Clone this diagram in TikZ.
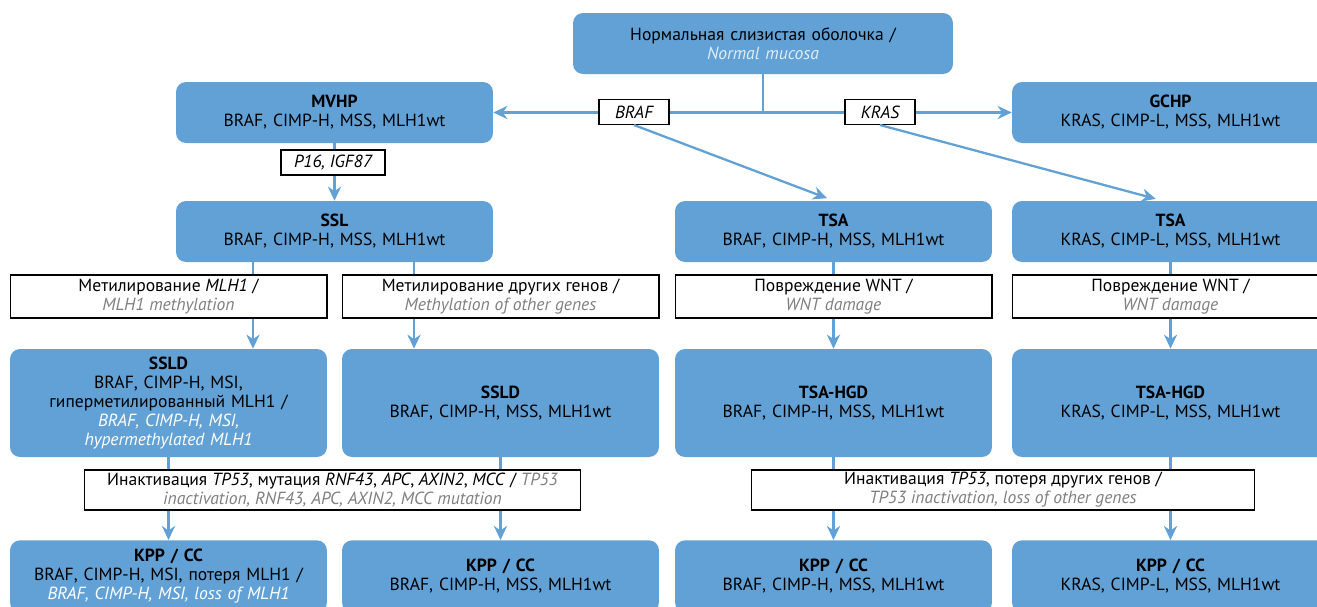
\documentclass[tikz,border=0pt]{standalone}
\usepackage{fontspec}
\setmainfont{PT Sans}
\usetikzlibrary{arrows.meta,positioning,calc}
\definecolor{boxblue}{RGB}{97,161,214}
\definecolor{notegrey}{RGB}{128,128,128}
\definecolor{paleblue}{RGB}{225,237,248}
\newcommand{\noteen}[1]{{\color{notegrey}\itshape #1}}
\newcommand{\stageen}[1]{{\color{white}\itshape #1}}

\begin{document}
\begin{tikzpicture}[
    x=0.02cm, y=-0.02cm,
    font=\fontsize{10}{10.8}\selectfont,
    stage/.style={rectangle, rounded corners=0.2cm, fill=boxblue, text width=6.2cm, align=center, minimum width=6.34cm, minimum height=1.22cm, inner sep=0pt},
    tall/.style={stage, minimum height=2.16cm},
    note/.style={rectangle, draw=black, line width=0.6pt, fill=white, align=center, minimum height=0.86cm, inner sep=1pt},
    tag/.style={rectangle, draw=black, line width=0.6pt, fill=white, font=\fontsize{10}{10.8}\selectfont\itshape, minimum height=0.5cm, inner sep=1pt},
    arrow/.style={-{Stealth[length=8pt,width=7.5pt]}, draw=boxblue, line width=1.3pt},
    link/.style={draw=boxblue, line width=1.3pt}
]
\useasboundingbox (0,0) rectangle (1317,606);

% top rows
\node[stage, minimum width=7.6cm, text width=7.4cm] (norm) at (763,43.5) {Нормальная слизистая оболочка /\\ {\color{paleblue}\itshape Normal mucosa}};
\node[stage] (mvhp) at (334.5,112.5) {\textbf{MVHP}\\ BRAF, CIMP-H, MSS, MLH1wt};
\node[stage] (gchp) at (1170.5,112.5) {\textbf{GCHP}\\ KRAS, CIMP-L, MSS, MLH1wt};
\node[stage] (ssl) at (334.5,231.5) {\textbf{SSL}\\ BRAF, CIMP-H, MSS, MLH1wt};
\node[stage] (tsabraf) at (833.5,231.5) {\textbf{TSA}\\ BRAF, CIMP-H, MSS, MLH1wt};
\node[stage] (tsakras) at (1170.5,231.5) {\textbf{TSA}\\ KRAS, CIMP-L, MSS, MLH1wt};

% dysplasia
\node[tall] (sslda) at (168.5,403) {\textbf{SSLD}\\ BRAF, CIMP-H, MSI,\\ гиперметилированный MLH1 /\\ \stageen{BRAF, CIMP-H, MSI,\\ hypermethylated MLH1}};
\node[tall] (ssldb) at (500.5,403) {\textbf{SSLD}\\ BRAF, CIMP-H, MSS, MLH1wt};
\node[tall] (hgdbraf) at (833.5,403) {\textbf{TSA-HGD}\\ BRAF, CIMP-H, MSS, MLH1wt};
\node[tall] (hgdkras) at (1170.5,403) {\textbf{TSA-HGD}\\ KRAS, CIMP-L, MSS, MLH1wt};

% cancer
\node[stage, anchor=north, minimum height=1.44cm] (kppa) at (168.5,540) {\textbf{KPP / CC}\\ BRAF, CIMP-H, MSI, потеря MLH1 /\\ \stageen{BRAF, CIMP-H, MSI, loss of MLH1}};
\node[stage, anchor=north, minimum height=1.44cm] (kppb) at (500.5,540) {\textbf{KPP / CC}\\ BRAF, CIMP-H, MSS, MLH1wt};
\node[stage, anchor=north, minimum height=1.44cm] (kppc) at (833.5,540) {\textbf{KPP / CC}\\ BRAF, CIMP-H, MSS, MLH1wt};
\node[stage, anchor=north, minimum height=1.44cm] (kppd) at (1170.5,540) {\textbf{KPP / CC}\\ KRAS, CIMP-L, MSS, MLH1wt};

% split from normal mucosa
\draw[link] (norm.south) -- (norm.south |- mvhp.east);
\draw[arrow] (norm.south |- mvhp.east) -- (mvhp.east);
\draw[arrow] (norm.south |- mvhp.east) -- (gchp.west);
\node[tag, minimum width=1.4cm] (braf) at (634,112) {BRAF};
\node[tag, minimum width=1.4cm] (kras) at (880,112) {KRAS};
\draw[arrow, shorten >=0.14cm] (braf.south) -- (tsabraf.north);
\draw[arrow, shorten >=0.14cm] (kras.south) -- ([xshift=-0.16cm]tsakras.north);

\draw[arrow] (mvhp) -- (ssl);
\node[tag, minimum width=2.08cm] (p16) at (333,162.5) {P16, IGF87};

% second step
\coordinate (mlhtop) at ($(ssl.south)+(-81.5,0)$);
\coordinate (othtop) at ($(ssl.south)+(79.5,0)$);
\draw[arrow] (mlhtop) -- (mlhtop |- sslda.north);
\draw[arrow] (othtop) -- (othtop |- ssldb.north);
\draw[arrow] (tsabraf) -- (hgdbraf);
\draw[arrow] (tsakras) -- (hgdkras);
\node[note, minimum width=6.34cm] (mlh) at (168.5,296.5) {Метилирование \textit{MLH1} /\\ \noteen{MLH1 methylation}};
\node[note, minimum width=6.34cm] (oth) at (500.5,296.5) {Метилирование других генов /\\ \noteen{Methylation of other genes}};
\node[note, minimum width=6.34cm] (wntbraf) at (833.5,296.5) {Повреждение WNT /\\ \noteen{WNT damage}};
\node[note, minimum width=6.34cm] (wntkras) at (1170.5,296.5) {Повреждение WNT /\\ \noteen{WNT damage}};

% third step
\draw[arrow] (sslda) -- (kppa);
\draw[arrow] (ssldb) -- (kppb);
\draw[arrow] (hgdbraf) -- (kppc);
\draw[arrow] (hgdkras) -- (kppd);
\node[note, minimum width=9.94cm, minimum height=0.8cm] (tpa) at (332.5,490) {Инактивация \textit{TP53}, мутация \textit{RNF43}, \textit{APC}, \textit{AXIN2}, \textit{MCC} / \noteen{TP53}\\ \noteen{inactivation, RNF43, APC, AXIN2, MCC mutation}};
\node[note, minimum width=10.08cm, minimum height=0.8cm] (tpb) at (1003,490) {Инактивация \textit{TP53}, потеря других генов /\\ \noteen{TP53 inactivation, loss of other genes}};

\end{tikzpicture}
\end{document}
